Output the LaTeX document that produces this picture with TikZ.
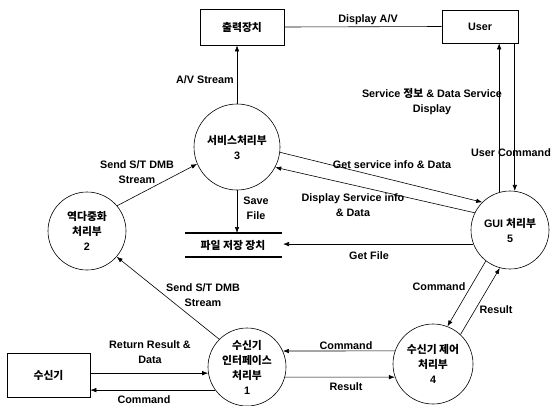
\documentclass[tikz,border=0pt]{standalone}
\usepackage{fontspec}
\setmainfont{Liberation Sans}
\newfontfamily\kr{Noto Sans CJK KR}
\usetikzlibrary{arrows.meta}
\begin{document}
\begin{tikzpicture}[x=1pt,y=-1pt,
  every node/.style={font=\fontsize{10.8}{15}\selectfont\bfseries, align=center},
  box/.style={draw, line width=0.6pt, inner sep=0pt},
  proc/.style={draw, circle, line width=0.6pt, inner sep=0pt},
  lbl/.style={inner sep=1pt},
  arr/.style={line width=0.6pt, -{Latex[length=6pt,width=4.5pt]}},
  ln/.style={line width=0.6pt},
  store/.style={line width=2pt}]
\useasboundingbox (0,0) rectangle (553,405);

% external entities
\node[box, minimum width=84pt, minimum height=36pt] (out) at (242,27) {\kr 출력장치};
\node[box, minimum width=76pt, minimum height=33pt] (user) at (480,26.5) {User};
\node[box, minimum width=83pt, minimum height=44pt] (rx) at (48.5,375) {\kr 수신기};

% processes
\node[proc, minimum size=86pt] (p3) at (237,147) {{\kr 서비스처리부}\\3};
\node[proc, minimum size=78pt] (p2) at (87,231) {{\kr 역다중화}\\{\kr 처리부}\\2};
\node[proc, minimum size=78pt] (p5) at (510,230) {GUI {\kr 처리부}\\5};
\node[proc, minimum size=78pt] (p1) at (247,367) {{\kr 수신기}\\{\kr 인터페이스}\\{\kr 처리부}\\1};
\node[proc, minimum size=80pt] (p4) at (433,364) {{\kr 수신기 제어}\\{\kr 처리부}\\4};

% data store
\coordinate (stTL) at (185,233);
\coordinate (stTR) at (282,233);
\coordinate (stBL) at (185,257);
\coordinate (stBR) at (282,257);
\draw[store] (stTL) -- (stTR);
\draw[store] (stBL) -- (stBR);
\node (st) at (233,245) {\kr 파일 저장 장치};
\coordinate (stR) at (283,245);

% connectors
\draw[arr] (p3.north) -- (p3.north |- out.south);
\draw[ln] (out.east) -- (user.west);
\draw[arr] (p5.106) -- (p5.106 |- user.south);
\draw[arr] (p5.83 |- user.south) -- (p5.83);
\draw[arr] (p3.-7) -- (p5.135);
\draw[arr] (p5.154) -- (p3.-28);
\draw[arr] (p5.201) -- (p5.201 -| stR);
\draw[arr] (p3.south) -- (p3.south |- stTL);
\draw[arr] (p2.40) -- (p3.203);
\draw[arr] (p1.135) -- (p2.-41);
\draw[arr] (p1.189 -| rx.east) -- (p1.189);
\draw[arr] (p1.216) -- (p1.216 -| rx.east);
\draw[arr] (p4.161) -- (p1.24);
\draw[arr] (p1.-15) -- (p4.199);
\draw[arr] (p5.232) -- (p4.69);
\draw[arr] (p4.47) -- (p5.255);

% labels
\node[lbl] (l1) at (205,80) {A/V Stream};
\node[lbl] (l2) at (368,20) {Display A/V};
\node[lbl] (l3) at (432,102) {Service {\kr 정보} \& Data Service\\Display};
\node[lbl] (l4) at (511,153) {User Command};
\node[lbl] (l5) at (392,165) {Get service info \& Data};
\node[lbl] (l6) at (353,205) {Display Service info\\\& Data};
\node[lbl] (l7) at (369,256) {Get File};
\node[lbl] (l8) at (256,208) {Save\\File};
\node[lbl] (l9) at (137,172) {Send S/T DMB\\Stream};
\node[lbl] (l10) at (203,295) {Send S/T DMB\\Stream};
\node[lbl] (l11) at (150,352) {Return Result \&\\Data};
\node[lbl] (l12) at (144,400) {Command};
\node[lbl] (l13) at (346,346) {Command};
\node[lbl] (l14) at (346,387) {Result};
\node[lbl] (l15) at (439,287) {Command};
\node[lbl] (l16) at (496,310) {Result};
\end{tikzpicture}
\end{document}
